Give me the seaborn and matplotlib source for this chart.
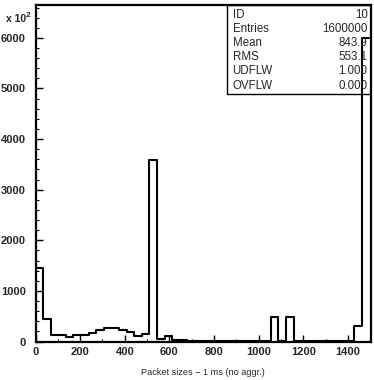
import numpy as np
import pandas as pd
import matplotlib
matplotlib.use("Agg")
import matplotlib.pyplot as plt
import seaborn as sns
from matplotlib.ticker import MultipleLocator
from matplotlib.patches import Rectangle

# Histogram contents (units of 10^2 entries), 44 bins of width 34 starting at 0
bin_width = 34
counts = [1450, 450, 120, 120, 85, 135, 120, 165, 230, 265, 270, 235, 180, 110, 150,
          3580,
          50, 105, 35, 20, 12, 10, 8, 8, 8, 8, 8, 8, 8, 8, 10,
          480, 5, 480,
          15, 8, 5, 5, 5, 5, 5, 10,
          300, 6000]

stat_names = ["ID", "Entries", "Mean", "RMS", "UDFLW", "OVFLW"]
stat_values = ["10", "1600000", "843.9", "553.1", "1.000", "0.000"]

x_label = "Packet sizes \u2212 1 ms (no aggr.)"
scale_label = "x 10"
scale_exp = "2"

sns.set_style("white")
plt.rcParams["font.family"] = ["Liberation Sans", "DejaVu Sans"]

edges = (np.arange(len(counts) + 1) * bin_width).tolist()
df = pd.DataFrame({"size": [(a + b) / 2 for a, b in zip(edges[:-1], edges[1:])],
                   "n": counts})

fig = plt.figure(figsize=(3.74, 3.80), dpi=100)
ax = fig.add_axes([35.5 / 374, 1 - 341.5 / 380, (371 - 35.5) / 374, (341.5 - 5) / 380])

sns.histplot(data=df, x="size", weights="n", bins=edges, element="step", fill=False,
             color="black", linewidth=1.5, ax=ax, zorder=3)

ax.set_xlim(0, 1503)
ax.set_ylim(0, 6650)
ax.set_ylabel("")
ax.set_xlabel(x_label, fontsize=6.6, labelpad=8)

for s in ax.spines.values():
    s.set_linewidth(1.6)
    s.set_color("black")

ax.xaxis.set_major_locator(MultipleLocator(200))
ax.xaxis.set_minor_locator(MultipleLocator(100))
ax.yaxis.set_major_locator(MultipleLocator(1000))
ax.yaxis.set_minor_locator(MultipleLocator(200))
ax.tick_params(axis="both", which="both", direction="in", color="black",
               bottom=True, left=True, top=False, right=False)
ax.tick_params(axis="both", which="major", length=5, width=1, labelsize=8, pad=4)
ax.tick_params(axis="y", which="major", pad=7)
ax.tick_params(axis="both", which="minor", length=2.5, width=0.8)
for lab in ax.get_xticklabels() + ax.get_yticklabels():
    lab.set_fontweight("bold")

# Statistics box in the upper right corner
bx0, by0 = (226.5 - 35.5) / (371 - 35.5), 1 - (94 - 5) / (341.5 - 5)
ax.add_patch(Rectangle((bx0, by0), 1 - bx0, 1 - by0, transform=ax.transAxes,
                       facecolor="white", edgecolor="black", linewidth=1.0, zorder=2))
row_h = (1 - by0 - 0.012) / len(stat_names)
for i, (name, val) in enumerate(zip(stat_names, stat_values)):
    yy = 1 - 0.006 - (i + 0.5) * row_h - 0.002
    ax.text(bx0 + 0.018, yy, name, transform=ax.transAxes, fontsize=8.3,
            ha="left", va="center", zorder=4)
    ax.text(0.99, yy, val, transform=ax.transAxes, fontsize=8.3,
            ha="right", va="center", zorder=4)

fig.text(6 / 374, 1 - 22 / 380, scale_label, fontsize=7.5, fontweight="bold",
         ha="left", va="baseline")
fig.text(26 / 374, 1 - 17 / 380, scale_exp, fontsize=6, fontweight="bold",
         ha="left", va="baseline")

fig.savefig("out.png", dpi=100)
